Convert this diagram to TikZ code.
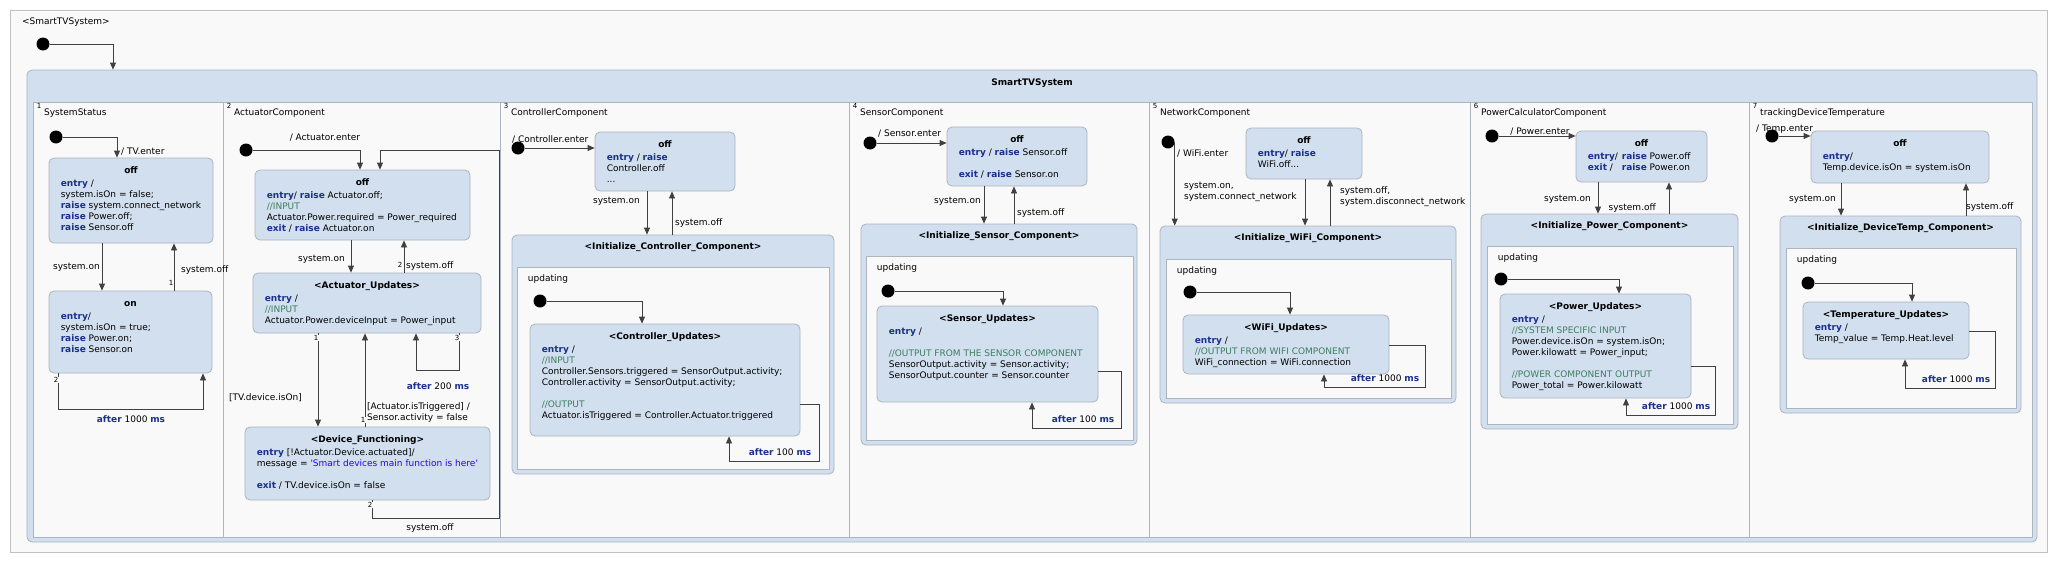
\documentclass[tikz,border=0pt]{standalone}
\usepackage{fontspec}
\setmainfont{DejaVu Sans}
\usetikzlibrary{arrows.meta,fit}
\definecolor{stfill}{RGB}{209,223,238}
\definecolor{stline}{RGB}{172,180,190}
\definecolor{regbg}{RGB}{249,249,249}
\definecolor{frameline}{RGB}{192,192,192}
\definecolor{kwblue}{RGB}{28,48,140}
\definecolor{cmtgreen}{RGB}{63,127,95}
\definecolor{strblue}{RGB}{42,0,255}
\definecolor{trgray}{RGB}{64,64,64}
\newcommand\kw[1]{\textcolor{kwblue}{\textbf{#1}}}
\newcommand\cmnt[1]{\textcolor{cmtgreen}{#1}}
\newcommand\strg[1]{\textcolor{strblue}{#1}}
% simple state: name, corner, corner, title, body
\newcommand\stbox[5]{%
  \node[stbox, fit={#2 #3}] (#1) {};
  \node[sttitle] (#1t) at ([yshift=-15.5pt]#1.north) {#4};
  \node[stbody] (#1b) at ([shift={(12pt,-21pt)}]#1.north west) {\strut #5};
}
% composite state: name, corner, corner, title, region corners
\newcommand\cmpbox[6]{%
  \node[stbox, fit={#2 #3}] (#1) {};
  \node[sttitle] (#1t) at ([yshift=-14.5pt]#1.north) {#4};
  \node[region, fit={#5 #6}] (#1r) {};
  \node[lbl, anchor=west] (#1u) at ([shift={(11pt,-12pt)}]#1r.north west) {updating};
}
\begin{document}
\begin{tikzpicture}[x=1pt, y=-1pt, font=\fontsize{9}{11}\selectfont,
  stbox/.style={draw=stline, fill=stfill, rounded corners=5pt, inner sep=0pt, line width=0.8pt},
  region/.style={draw=stline, fill=regbg, inner sep=0pt, line width=0.6pt},
  outframe/.style={draw=frameline, fill=regbg, inner sep=0pt, line width=0.8pt},
  sttitle/.style={anchor=base, inner sep=0pt, font=\fontsize{9}{11}\selectfont\bfseries},
  stbody/.style={anchor=north west, align=left, inner sep=0pt},
  lbl/.style={inner sep=0pt},
  trnum/.style={inner sep=0.6pt, fill=regbg, font=\fontsize{7}{7}\selectfont},
  initdot/.style={circle, fill=black, inner sep=0pt, minimum size=13pt},
  tr/.style={draw=trgray, line width=0.8pt, -{Triangle[length=7pt,width=6pt]}}]

\fill[white] (0,0) rectangle (2058,562);
\useasboundingbox (0,0) rectangle (2058,562);

% frame and top level
\node[outframe, fit={(10,10) (2047,552)}] (frame) {};
\node[lbl, anchor=west] (framel) at (22,22) {<SmartTVSystem>};
\node[stbox, fit={(27,70) (2037,542)}] (sys) {};
\node[sttitle] (syst) at ([yshift=-15.5pt]sys.north) {SmartTVSystem};
\node[region, fit={(33,102) (2032,537)}] (sysr) {};
\foreach \x/\n/\name in {33/1/SystemStatus, 223/2/ActuatorComponent,
    500/3/ControllerComponent, 849/4/SensorComponent, 1149/5/NetworkComponent,
    1470/6/PowerCalculatorComponent, 1749/7/trackingDeviceTemperature}{
  \draw[stline, line width=0.6pt] (sysr.north -| \x,0) -- (sysr.south -| \x,0);
  \node[trnum, fill=none, anchor=north west] (rn\n) at (\x+3,103) {\n};
  \node[lbl, anchor=west] (rl\n) at (\x+11,113) {\name};
}
\node[initdot] (sys_i) at (43,44) {};
\draw[tr] (sys_i) -| (sys.north -| 113,0);

% 1 SystemStatus
\stbox{ss_off}{(49,158)}{(213,243)}{off}{\kw{entry} /\\system.isOn = false;\\\kw{raise} system.connect\_network\\\kw{raise} Power.off;\\\kw{raise} Sensor.off}
\stbox{ss_on}{(49,291)}{(212,373)}{on}{\kw{entry}/\\system.isOn = true;\\\kw{raise} Power.on;\\\kw{raise} Sensor.on}
\node[initdot] (ss_i) at (56,137) {};
\draw[tr] (ss_i) -| (ss_off.north -| 117,0);
\node[lbl, anchor=west] (ss_lenter) at (121,152) {/ TV.enter};
\draw[tr] (ss_off.south -| 102,0) -- (ss_on.north -| 102,0);
\node[lbl, anchor=east] (ss_lon) at (100,267) {system.on};
\draw[tr] (ss_on.north -| 174,0) -- (ss_off.south -| 174,0);
\node[lbl, anchor=west] (ss_loff) at (181,270) {system.off};
\node[trnum] (ss_n1) at (171,283) {1};
\draw[tr] (ss_on.south -| 58,0) -- ++(0,36) -| (ss_on.south -| 203,0);
\node[trnum] (ss_n2) at (56,380) {2};
\node[lbl] (ss_lafter) at (131,419) {\kw{after} 1000 \kw{ms}};

% 2 ActuatorComponent
\stbox{act_off}{(255,170)}{(470,240)}{off}{\kw{entry}/ \kw{raise} Actuator.off;\\\cmnt{//INPUT}\\Actuator.Power.required = Power\_required\\\kw{exit} / \kw{raise} Actuator.on}
\stbox{act_upd}{(253,273)}{(481,333)}{<Actuator\_Updates>}{\kw{entry} /\\\cmnt{//INPUT}\\Actuator.Power.deviceInput = Power\_input}
\stbox{act_dev}{(245,427)}{(490,500)}{<Device\_Functioning>}{\kw{entry} [!Actuator.Device.actuated]/\\message = \strg{\textquotesingle Smart devices main function is here\textquotesingle}\\[11pt]\kw{exit} / TV.device.isOn = false}
\node[initdot] (act_i) at (246,150) {};
\draw[tr] (act_i) -| (act_off.north -| 360,0);
\node[lbl] (act_lenter) at (325,138) {/ Actuator.enter};
\draw[tr] (act_off.south -| 351,0) -- (act_upd.north -| 351,0);
\node[lbl, anchor=east] (act_lon) at (345,259) {system.on};
\draw[tr] (act_upd.north -| 404,0) -- (act_off.south -| 404,0);
\node[lbl, anchor=west] (act_loff) at (406,266) {system.off};
\node[trnum] (act_n2a) at (400,265) {2};
\draw[tr] (act_upd.south -| 318,0) -- (act_dev.north -| 318,0);
\node[trnum] (act_n1a) at (316,338) {1};
\node[lbl, anchor=east] (act_lison) at (302,398) {[TV.device.isOn]};
\draw[tr] (act_dev.north -| 365,0) -- (act_upd.south -| 365,0);
\node[trnum] (act_n1b) at (363,420) {1};
\node[lbl, align=left, anchor=west] (act_ltrig) at (367,412.5) {[Actuator.isTriggered] /\\Sensor.activity = false};
\draw[tr] (act_upd.south -| 459,0) -- ++(0,37) -| (act_upd.south -| 416,0);
\node[trnum] (act_n3) at (457,338) {3};
\node[lbl] (act_lafter) at (438,386) {\kw{after} 200 \kw{ms}};
\draw[tr] (act_dev.south -| 372,0) |- (499,518) |- (380,150) -- (act_off.north -| 380,0);
\node[trnum] (act_n2b) at (370,505) {2};
\node[lbl] (act_lback) at (430,528) {system.off};

% 3 ControllerComponent
\stbox{ctl_off}{(595,132)}{(735,191)}{off}{\kw{entry} / \kw{raise}\\Controller.off\\...}
\cmpbox{ctl_comp}{(512,235)}{(834,474)}{<Initialize\_Controller\_Component>}{(517,267)}{(829,469)}
\stbox{ctl_upd}{(530,324)}{(800,436)}{<Controller\_Updates>}{\kw{entry} /\\\cmnt{//INPUT}\\Controller.Sensors.triggered = SensorOutput.activity;\\Controller.activity = SensorOutput.activity;\\[11pt]\cmnt{//OUTPUT}\\Actuator.isTriggered = Controller.Actuator.triggered}
\node[initdot] (ctl_i) at (518,148) {};
\draw[tr] (ctl_i) -- (ctl_off.west |- ctl_i);
\node[lbl, anchor=west] (ctl_lenter) at (512,139) {/ Controller.enter};
\draw[tr] (ctl_off.south -| 647,0) -- (ctl_comp.north -| 647,0);
\node[lbl, anchor=east] (ctl_lon) at (640,201) {system.on};
\draw[tr] (ctl_comp.north -| 672,0) -- (ctl_off.south -| 672,0);
\node[lbl, anchor=west] (ctl_loff) at (675,223) {system.off};
\node[initdot] (ctl_ri) at (540,301) {};
\draw[tr] (ctl_ri) -| (ctl_upd.north -| 642,0);
\draw[tr] (ctl_upd.east |- 0,404) -| (819,461) -| (ctl_upd.south -| 729,0);
\node[lbl] (ctl_lafter) at (780,452) {\kw{after} 100 \kw{ms}};

% 4 SensorComponent
\stbox{sen_off}{(947,127)}{(1087,186)}{off}{\kw{entry} / \kw{raise} Sensor.off\\[11pt]\kw{exit} / \kw{raise} Sensor.on}
\cmpbox{sen_comp}{(861,224)}{(1137,445)}{<Initialize\_Sensor\_Component>}{(866,256)}{(1133,440)}
\stbox{sen_upd}{(877,306)}{(1098,402)}{<Sensor\_Updates>}{\kw{entry} /\\[11pt]\cmnt{//OUTPUT FROM THE SENSOR COMPONENT}\\SensorOutput.activity = Sensor.activity;\\SensorOutput.counter = Sensor.counter}
\node[initdot] (sen_i) at (870,143) {};
\draw[tr] (sen_i) -- (sen_off.west |- sen_i);
\node[lbl, anchor=west] (sen_lenter) at (878,134) {/ Sensor.enter};
\draw[tr] (sen_off.south -| 984,0) -- (sen_comp.north -| 984,0);
\node[lbl, anchor=east] (sen_lon) at (981,201) {system.on};
\draw[tr] (sen_comp.north -| 1014,0) -- (sen_off.south -| 1014,0);
\node[lbl, anchor=west] (sen_loff) at (1017,213) {system.off};
\node[initdot] (sen_ri) at (888,291) {};
\draw[tr] (sen_ri) -| (sen_upd.north -| 1003,0);
\draw[tr] (sen_upd.east |- 0,371) -| (1121,428) -| (sen_upd.south -| 1032,0);
\node[lbl] (sen_lafter) at (1083,419) {\kw{after} 100 \kw{ms}};

% 5 NetworkComponent
\stbox{net_off}{(1246,128)}{(1362,179)}{off}{\kw{entry}/ \kw{raise}\\WiFi.off...}
\cmpbox{net_comp}{(1160,226)}{(1456,403)}{<Initialize\_WiFi\_Component>}{(1166,259)}{(1451,398)}
\stbox{net_upd}{(1183,315)}{(1389,374)}{<WiFi\_Updates>}{\kw{entry} /\\\cmnt{//OUTPUT FROM WIFI COMPONENT}\\WiFi\_connection = WiFi.connection}
\node[initdot] (net_i) at (1168,142) {};
\draw[tr] (net_i.east) -- (net_comp.north -| net_i.east);
\node[lbl, anchor=west] (net_lenter) at (1177,153) {/ WiFi.enter};
\node[lbl, align=left, anchor=west] (net_lcon) at (1184,191.5) {system.on,\\system.connect\_network};
\draw[tr] (net_off.south -| 1305,0) -- (net_comp.north -| 1305,0);
\draw[tr] (net_comp.north -| 1330,0) -- (net_off.south -| 1330,0);
\node[lbl, align=left, anchor=west] (net_ldis) at (1340,196.5) {system.off,\\system.disconnect\_network};
\node[initdot] (net_ri) at (1190,292) {};
\draw[tr] (net_ri) -| (net_upd.north -| 1290,0);
\draw[tr] (net_upd.east |- 0,345) -| (1425,387) -| (net_upd.south -| 1324,0);
\node[lbl] (net_lafter) at (1385,378) {\kw{after} 1000 \kw{ms}};

% 6 PowerCalculatorComponent
\stbox{pow_off}{(1576,131)}{(1707,182)}{off}{\makebox[34pt][l]{\kw{entry}/}\kw{raise} Power.off\\\makebox[34pt][l]{\kw{exit} /}\kw{raise} Power.on}
\cmpbox{pow_comp}{(1481,214)}{(1738,429)}{<Initialize\_Power\_Component>}{(1487,246)}{(1733,424)}
\stbox{pow_upd}{(1500,294)}{(1691,398)}{<Power\_Updates>}{\kw{entry} /\\\cmnt{//SYSTEM SPECIFIC INPUT}\\Power.device.isOn = system.isOn;\\Power.kilowatt = Power\_input;\\[11pt]\cmnt{//POWER COMPONENT OUTPUT}\\Power\_total = Power.kilowatt}
\node[initdot] (pow_i) at (1492,136) {};
\draw[tr] (pow_i) -- (pow_off.west |- pow_i);
\node[lbl] (pow_lenter) at (1540,132) {/ Power.enter};
\draw[tr] (pow_off.south -| 1598,0) -- (pow_comp.north -| 1598,0);
\node[lbl, anchor=east] (pow_lon) at (1591,199) {system.on};
\draw[tr] (pow_comp.north -| 1669,0) -- (pow_off.south -| 1669,0);
\node[lbl, anchor=east] (pow_loff) at (1656,208) {system.off};
\node[initdot] (pow_ri) at (1501,279) {};
\draw[tr] (pow_ri) -| (pow_upd.north -| 1619,0);
\draw[tr] (pow_upd.east |- 0,366) -| (1715,415) -| (pow_upd.south -| 1626,0);
\node[lbl] (pow_lafter) at (1676,406) {\kw{after} 1000 \kw{ms}};

% 7 trackingDeviceTemperature
\stbox{tmp_off}{(1811,131)}{(1989,183)}{off}{\kw{entry}/\\Temp.device.isOn = system.isOn}
\cmpbox{tmp_comp}{(1780,216)}{(2021,413)}{<Initialize\_DeviceTemp\_Component>}{(1786,248)}{(2016,408)}
\stbox{tmp_upd}{(1803,302)}{(1969,359)}{<Temperature\_Updates>}{\kw{entry} /\\Temp\_value = Temp.Heat.level}
\node[initdot] (tmp_i) at (1772,136) {};
\draw[tr] (tmp_i) -- (tmp_off.west |- tmp_i);
\node[lbl, anchor=west] (tmp_lenter) at (1756,129) {/ Temp.enter};
\draw[tr] (tmp_off.south -| 1841,0) -- (tmp_comp.north -| 1841,0);
\node[lbl, anchor=east] (tmp_lon) at (1836,199) {system.on};
\draw[tr] (tmp_comp.north -| 1966,0) -- (tmp_off.south -| 1966,0);
\node[lbl, anchor=west] (tmp_loff) at (1966,207) {system.off};
\node[initdot] (tmp_ri) at (1808,283) {};
\draw[tr] (tmp_ri) -| (tmp_upd.north -| 1912,0);
\draw[tr] (tmp_upd.east |- 0,331) -| (1995,388) -| (tmp_upd.south -| 1905,0);
\node[lbl] (tmp_lafter) at (1956,379) {\kw{after} 1000 \kw{ms}};

\end{tikzpicture}
\end{document}
